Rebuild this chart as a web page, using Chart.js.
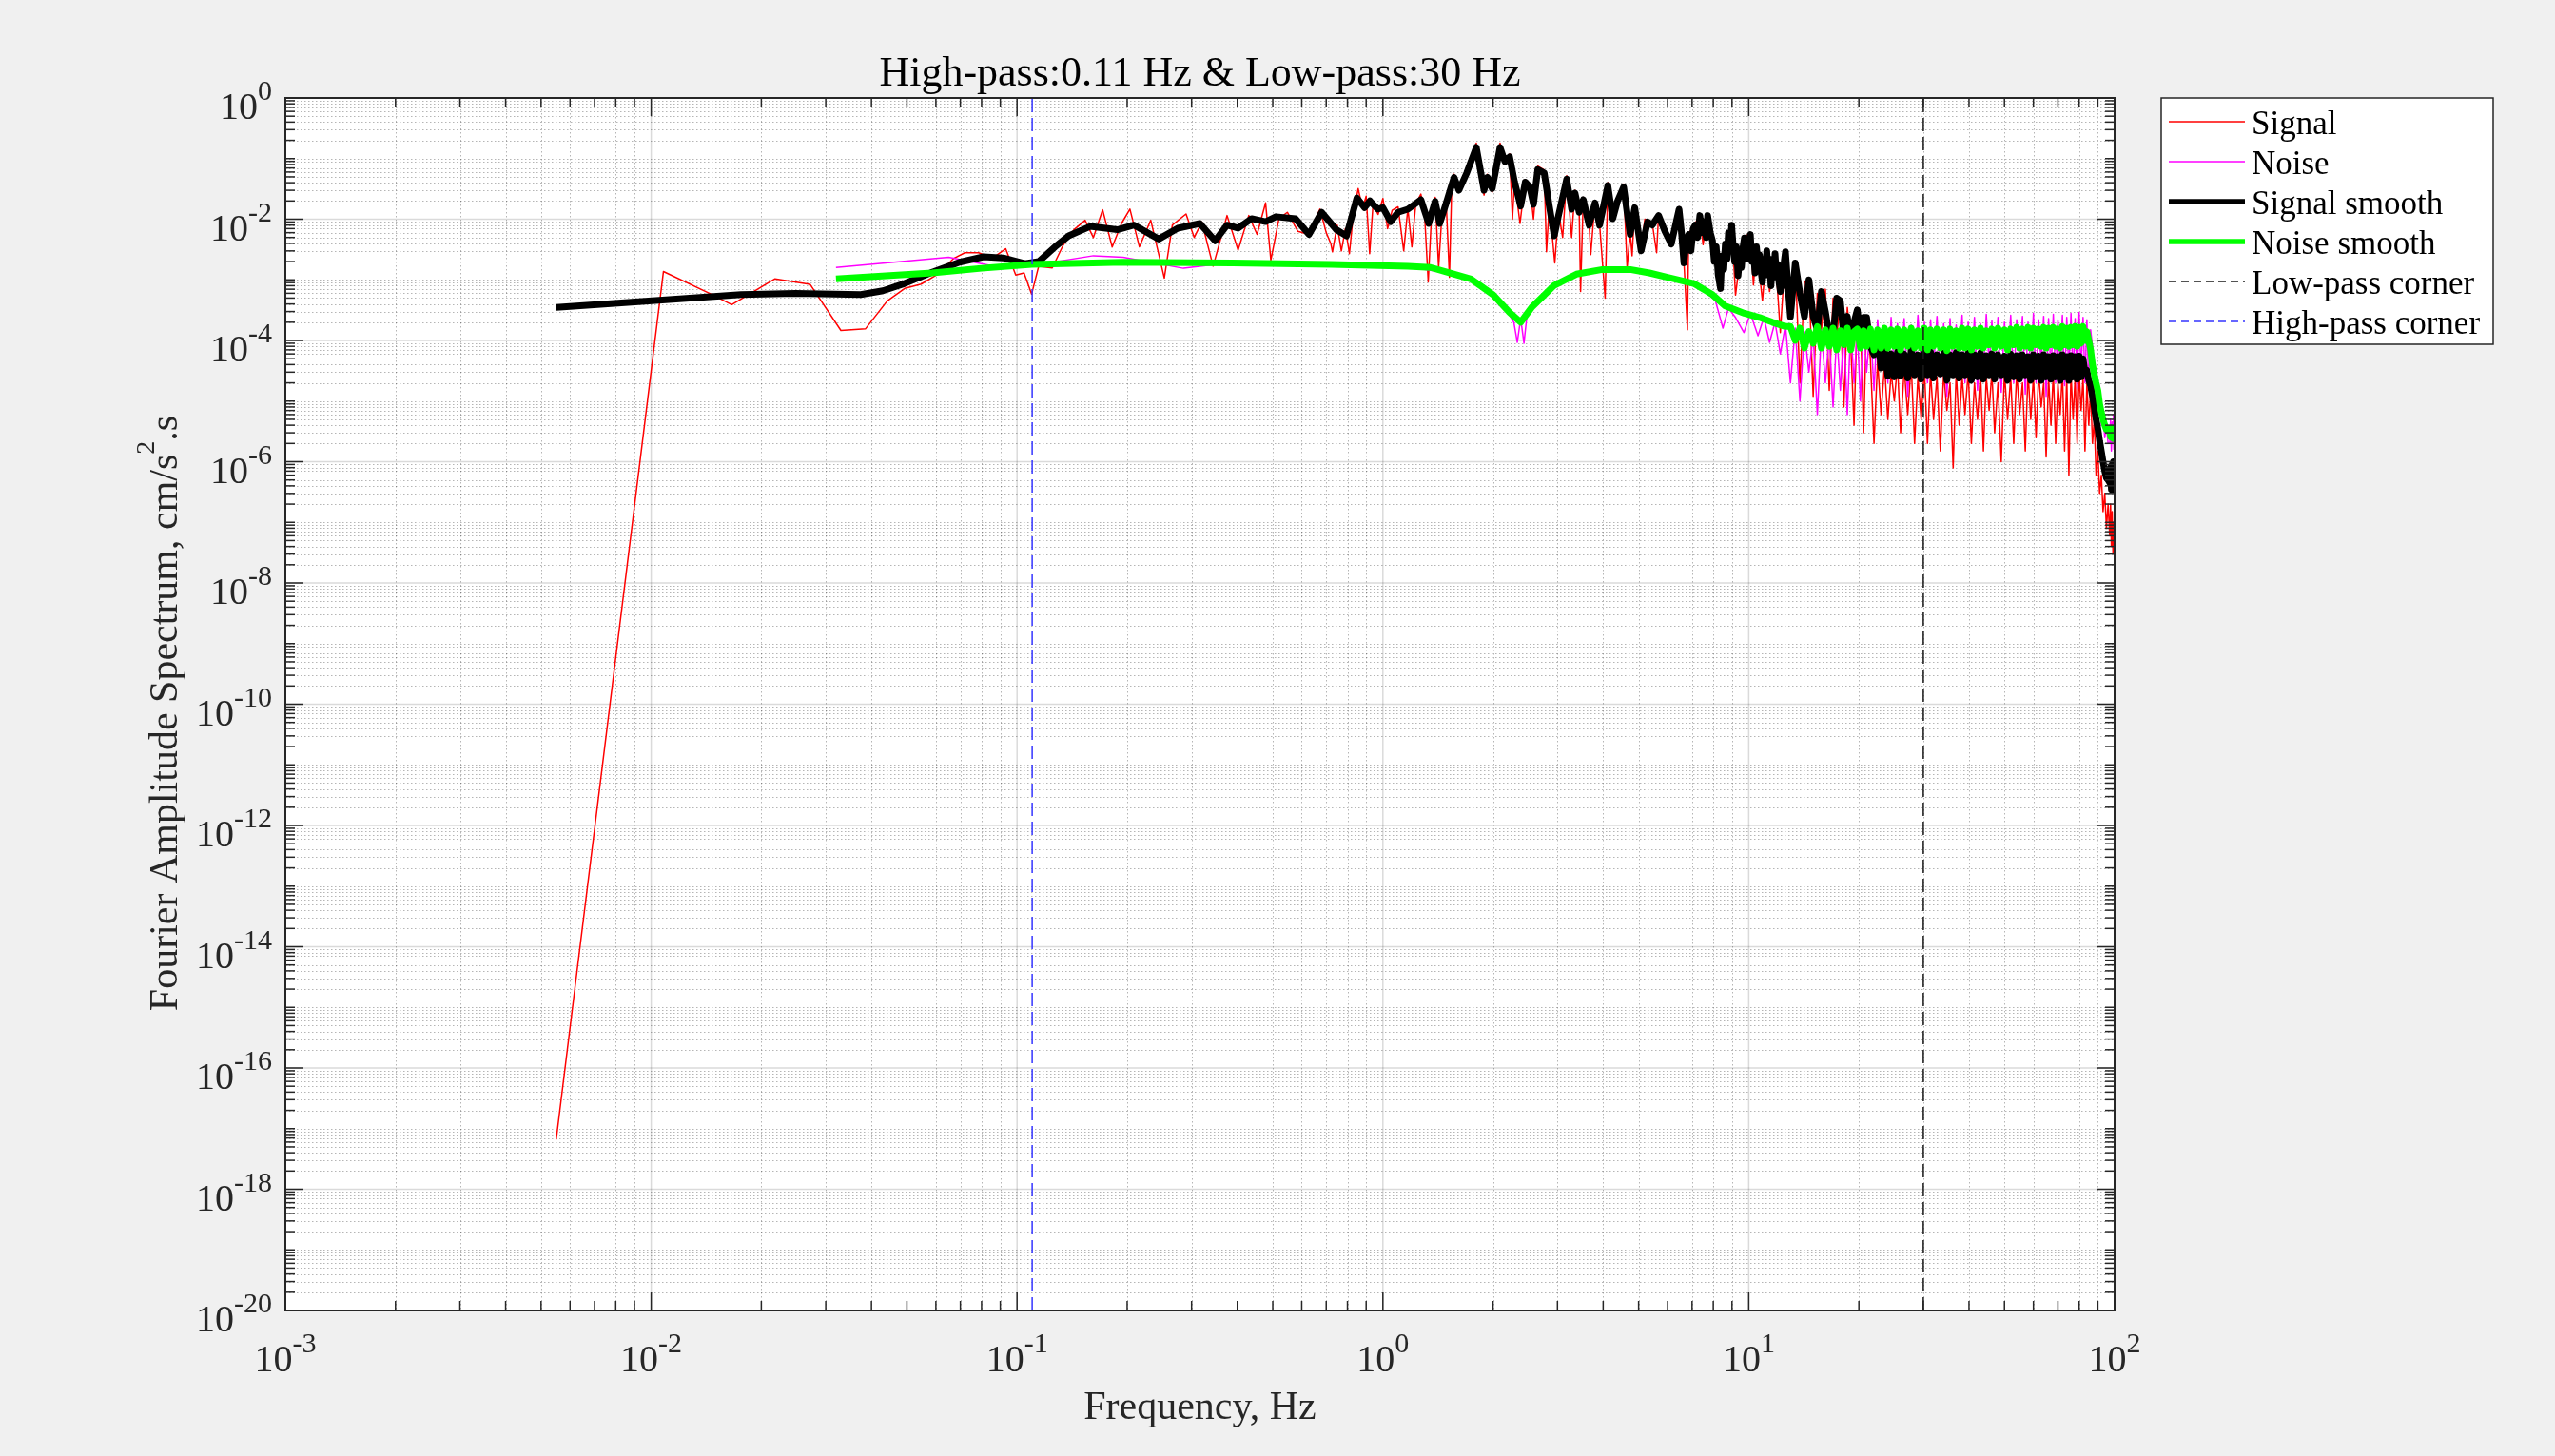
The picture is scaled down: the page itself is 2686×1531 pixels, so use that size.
<!DOCTYPE html>
<html lang="en">
  <head>
    <meta charset="UTF-8" />
    <title>Fourier Amplitude Spectrum</title>
    <script src="https://cdn.jsdelivr.net/npm/chart.js@4.4.1/dist/chart.umd.min.js"></script>
    <style>
      html,
      body {
        margin: 0;
        padding: 0;
        background: #f0f0f0;
      }
      #wrap {
        width: 2686px;
        height: 1531px;
      }
    </style>
  </head>
  <body>
    <div id="wrap"><canvas id="spectrum" width="2686" height="1531"></canvas></div>

    <script>
      // axis decades (labels are drawn as 10^exp)
      const xTickExp = [-3, -2, -1, 0, 1, 2];
      const yTickExp = [0, -2, -4, -6, -8, -10, -12, -14, -16, -18, -20];

      const titleText = "High-pass:0.11 Hz & Low-pass:30 Hz";
      const xLabel = "Frequency, Hz";
      const highPassHz = 0.11;
      const lowPassHz = 30;

      // Signal (red) below 13 Hz: [frequency Hz, amplitude]
      const signalLow = [
        [0.0055, 6.6e-18], [0.0108, 1.37e-3], [0.0146, 5.8e-4], [0.0166, 3.9e-4], [0.0218, 1.04e-3],
        [0.0272, 8.4e-4], [0.033, 1.46e-4], [0.0385, 1.55e-4], [0.0442, 4.5e-4], [0.0493, 7.2e-4],
        [0.0547, 8.5e-4], [0.0607, 1.24e-3], [0.0672, 2.27e-3], [0.072, 2.8e-3], [0.0785, 2.8e-3],
        [0.0855, 2.27e-3], [0.0931, 3.26e-3], [0.0992, 1.2e-3], [0.1045, 1.3e-3], [0.1096, 5.8e-4],
        [0.1146, 1.68e-3], [0.1248, 1.57e-3], [0.1336, 3.7e-3], [0.143, 6.7e-3], [0.1535, 9.6e-3],
        [0.1617, 4.97e-3], [0.1714, 1.43e-2], [0.182, 3.47e-3], [0.193, 8.5e-3], [0.2035, 1.47e-2],
        [0.216, 3.5e-3], [0.232, 9.6e-3], [0.2527, 1.07e-3], [0.2658, 8e-3], [0.2897, 1.22e-2],
        [0.305, 5e-3], [0.32, 9e-3], [0.3435, 1.68e-3], [0.375, 1.15e-2], [0.402, 3.1e-3],
        [0.43, 1.15e-2], [0.453, 5.6e-3], [0.478, 1.86e-2], [0.494, 2.1e-3], [0.52, 1.02e-2],
        [0.548, 1.3e-2], [0.586, 6.3e-3], [0.628, 5.6e-3], [0.673, 1.47e-2], [0.7, 6e-3],
        [0.721, 3.9e-3], [0.728, 2.9e-3], [0.75, 8e-3], [0.77, 3e-3], [0.79, 7e-3],
        [0.81, 2.7e-3], [0.83, 1.2e-2], [0.856, 3.2e-2], [0.88, 1.5e-2], [0.9, 2.4e-2],
        [0.92, 2.7e-3], [0.94, 1.8e-2], [0.97, 1.2e-2], [1.0, 2.2e-2], [1.03, 7e-3],
        [1.06, 1.4e-2], [1.1, 1.6e-2], [1.14, 3e-3], [1.17, 1.5e-2], [1.2, 3.5e-3],
        [1.23, 1.8e-2], [1.27, 2.6e-2], [1.3, 1.2e-2], [1.33, 9.2e-4], [1.36, 1.4e-2],
        [1.39, 2.3e-2], [1.42, 1.6e-3], [1.45, 1.2e-2], [1.49, 1.8e-2], [1.52, 1.1e-3],
        [1.54, 2.5e-2], [1.565, 5.5e-2], [1.613, 2.8e-2], [1.695, 6.5e-2], [1.75, 0.11],
        [1.8, 0.18], [1.85, 5e-2], [1.89, 2.5e-2], [1.93, 5.5e-2], [1.99, 2.8e-2],
        [2.04, 9e-2], [2.09, 0.18], [2.155, 8e-2], [2.22, 0.12], [2.26, 1e-2],
        [2.29, 4.5e-2], [2.37, 8.5e-3], [2.45, 4.5e-2], [2.52, 3.8e-2], [2.58, 1e-2],
        [2.65, 7.5e-2], [2.76, 6.5e-2], [2.8, 2.9e-3], [2.85, 1.8e-2], [2.95, 1.9e-3],
        [3.02, 1.3e-2], [3.1, 5e-3], [3.18, 5.2e-2], [3.28, 5e-3], [3.35, 3e-2],
        [3.44, 1.4e-2], [3.47, 6.4e-4], [3.53, 2.3e-2], [3.66, 8.5e-3], [3.7, 2.6e-3],
        [3.8, 2e-2], [3.91, 8.5e-3], [4.05, 5e-4], [4.12, 4e-2], [4.25, 1.1e-2],
        [4.38, 2.2e-2], [4.55, 3.8e-2], [4.65, 1.6e-3], [4.74, 6e-3], [4.8, 2.5e-3],
        [4.88, 1.7e-2], [5.08, 3.2e-3], [5.2, 1e-2], [5.29, 9.5e-3], [5.45, 8.5e-3],
        [5.6, 2.8e-3], [5.67, 1.2e-2], [5.9, 6.6e-3], [6.14, 4e-3], [6.45, 1.6e-2],
        [6.65, 2e-3], [6.8, 1.5e-4], [6.85, 5.8e-3], [7.14, 8.5e-3], [7.35, 1.2e-2],
        [7.5, 3.8e-3], [7.72, 1.2e-2], [7.96, 4.5e-3], [8.1, 2e-3], [8.37, 7e-4],
        [8.63, 4e-3], [8.98, 8.5e-3], [9.2, 5.6e-4], [9.35, 1.2e-3], [9.73, 5e-3],
        [10.1, 6e-3], [10.3, 8.2e-4], [10.5, 3.7e-3], [10.9, 4.5e-4], [11.2, 3.2e-3],
        [11.4, 6.4e-4], [11.8, 2.8e-3], [12.2, 1.35e-4], [12.6, 3e-3]
      ];

      // Noise (magenta) below 13 Hz
      const noiseLow = [
        [0.032, 1.6e-3], [0.065, 2.35e-3], [0.0855, 1.7e-3], [0.109, 1.7e-3], [0.1617, 2.5e-3],
        [0.195, 2.35e-3], [0.285, 1.55e-3], [0.35, 1.8e-3], [0.45, 1.85e-3], [0.6, 1.8e-3],
        [0.8, 1.75e-3], [1.0, 1.7e-3], [1.2, 1.6e-3], [1.5, 1.3e-3], [1.75, 9.5e-4],
        [1.9, 6.5e-4], [2.0, 5.6e-4], [2.08, 3.8e-4], [2.15, 3.6e-4], [2.22, 2.6e-4],
        [2.28, 2e-4], [2.33, 9.3e-5], [2.38, 2.3e-4], [2.43, 9e-5], [2.48, 2.8e-4],
        [2.55, 3.2e-4], [2.62, 4.6e-4], [2.7, 4.8e-4], [2.8, 6.5e-4], [2.95, 8.2e-4],
        [3.2, 1.1e-3], [3.6, 1.4e-3], [4.2, 1.5e-3], [4.9, 1.45e-3], [5.6, 1.2e-3],
        [6.3, 1.05e-3], [7.0, 8.5e-4], [7.6, 6.2e-4], [8.1, 4.6e-4], [8.5, 1.6e-4],
        [8.8, 3.4e-4], [9.2, 2.4e-4], [9.7, 1.35e-4], [10.1, 2.8e-4], [10.6, 1.2e-4],
        [11.0, 2.4e-4], [11.4, 9.3e-5], [11.8, 2e-4], [12.2, 6e-5], [12.6, 1.8e-4]
      ];

      // Signal smooth (black) below 13 Hz
      const signalSmoothLow = [
        [0.0055, 3.5e-4], [0.0105, 4.6e-4], [0.0176, 5.7e-4], [0.0248, 6e-4], [0.0374, 5.7e-4],
        [0.043, 6.6e-4], [0.0493, 8.7e-4], [0.0586, 1.33e-3], [0.0696, 1.95e-3], [0.081, 2.4e-3],
        [0.0916, 2.3e-3], [0.105, 1.85e-3], [0.1146, 2e-3], [0.127, 3.5e-3], [0.1384, 5.3e-3],
        [0.1585, 7.6e-3], [0.188, 6.7e-3], [0.209, 8e-3], [0.244, 4.7e-3], [0.275, 7.1e-3],
        [0.316, 8.5e-3], [0.348, 4.4e-3], [0.375, 8e-3], [0.402, 7.1e-3], [0.438, 1.02e-2],
        [0.478, 9.1e-3], [0.51, 1.1e-2], [0.577, 1.02e-2], [0.628, 5.6e-3], [0.68, 1.3e-2],
        [0.746, 6.7e-3], [0.795, 5.3e-3], [0.849, 2.24e-2], [0.891, 1.56e-2], [0.922, 2e-2],
        [0.968, 1.47e-2], [1.0, 1.55e-2], [1.05, 9.1e-3], [1.1, 1.3e-2], [1.17, 1.46e-2],
        [1.27, 2.1e-2], [1.334, 8.5e-3], [1.389, 1.97e-2], [1.43, 8.5e-3], [1.503, 2.2e-2],
        [1.565, 4.9e-2], [1.613, 3e-2], [1.695, 5.8e-2], [1.8, 0.153], [1.89, 3e-2],
        [1.93, 4.9e-2], [1.99, 3.2e-2], [2.09, 0.153], [2.155, 8.9e-2], [2.22, 0.107],
        [2.29, 4.1e-2], [2.38, 1.65e-2], [2.45, 4.1e-2], [2.52, 3.4e-2], [2.58, 1.76e-2],
        [2.65, 6.6e-2], [2.76, 5.8e-2], [2.85, 1.65e-2], [2.94, 5.3e-3], [3.02, 1.15e-2],
        [3.18, 4.6e-2], [3.28, 1.46e-2], [3.35, 2.7e-2], [3.44, 1.3e-2], [3.53, 2.1e-2],
        [3.66, 8e-3], [3.8, 1.86e-2], [3.91, 8e-3], [4.12, 3.6e-2], [4.25, 1.02e-2],
        [4.38, 2e-2], [4.55, 3.4e-2], [4.74, 5.6e-3], [4.88, 1.55e-2], [5.08, 3e-3],
        [5.29, 9e-3], [5.45, 8e-3], [5.67, 1.15e-2], [5.9, 6.3e-3], [6.14, 3.9e-3],
        [6.45, 1.46e-2], [6.55, 6e-3], [6.65, 1.9e-3], [6.75, 4.5e-3], [6.85, 5.6e-3],
        [6.95, 3e-3], [7.05, 7e-3], [7.14, 8e-3], [7.25, 5e-3], [7.35, 1.15e-2],
        [7.45, 6e-3], [7.55, 9e-3], [7.65, 5e-3], [7.72, 1.15e-2], [7.85, 6e-3],
        [7.96, 4.4e-3], [8.05, 2e-3], [8.15, 3.5e-3], [8.25, 1.2e-3], [8.37, 7.2e-4],
        [8.45, 2.5e-3], [8.55, 1.5e-3], [8.63, 3.9e-3], [8.72, 2.2e-3], [8.8, 6e-3],
        [8.9, 3e-3], [8.98, 8e-3], [9.07, 3.5e-3], [9.15, 2e-3], [9.25, 3.5e-3],
        [9.35, 1.17e-3], [9.45, 2.5e-3], [9.55, 1.6e-3], [9.65, 3.5e-3], [9.73, 4.9e-3],
        [9.85, 2.2e-3], [9.95, 4e-3], [10.1, 5.6e-3], [10.2, 2e-3], [10.3, 3e-3],
        [10.4, 1.3e-3], [10.5, 3.5e-3], [10.6, 1.8e-3], [10.7, 2.6e-3], [10.8, 1.4e-3],
        [10.9, 9.2e-4], [11.0, 2.2e-3], [11.1, 1.2e-3], [11.2, 3e-3], [11.3, 1.5e-3],
        [11.4, 2.2e-3], [11.5, 8e-4], [11.6, 1.8e-3], [11.7, 1.1e-3], [11.8, 2.7e-3],
        [11.9, 1.2e-3], [12.0, 1.8e-3], [12.1, 9e-4], [12.2, 6.4e-4], [12.3, 1.5e-3],
        [12.4, 8e-4], [12.5, 2e-3], [12.6, 2.9e-3], [12.8, 8e-4]
      ];

      // Noise smooth (green) below 13 Hz
      const noiseSmoothLow = [
        [0.032, 1.04e-3], [0.0586, 1.3e-3], [0.08, 1.55e-3], [0.1096, 1.8e-3], [0.195, 1.95e-3],
        [0.388, 1.9e-3], [0.723, 1.8e-3], [1.17, 1.67e-3], [1.35, 1.6e-3], [1.52, 1.3e-3],
        [1.74, 1.03e-3], [2.0, 5.7e-4], [2.22, 2.9e-4], [2.38, 2e-4], [2.55, 3.5e-4],
        [2.94, 8.1e-4], [3.38, 1.24e-3], [3.98, 1.48e-3], [4.74, 1.48e-3], [5.35, 1.3e-3],
        [6.0, 1.1e-3], [7.07, 8.7e-4], [7.96, 5.7e-4], [8.63, 3.7e-4], [9.73, 2.8e-4],
        [10.7, 2.4e-4], [11.6, 2e-4], [12.6, 1.7e-4]
      ];

      // dense high-frequency part, one frequency list shared by the four series
      const bandFreq = [
        13.0, 13.4, 13.8, 14.2, 14.6, 15.0, 15.4, 15.8, 16.2, 16.6,
        17.0, 17.4, 17.8, 18.2, 18.6, 19.0, 19.4, 19.8, 20.2, 20.6,
        21.0, 21.5, 22.0, 22.5, 23.0, 23.5, 24.0, 24.5, 25.0, 25.5,
        26.0, 26.6, 27.2, 27.8, 28.4, 29.0, 29.6, 30.2, 30.8, 31.4,
        32.0, 32.7, 33.4, 34.1, 34.8, 35.5, 36.2, 36.9, 37.6, 38.3,
        39.0, 39.8, 40.6, 41.4, 42.2, 43.0, 43.8, 44.6, 45.4, 46.2,
        47, 48, 49, 50, 51, 52, 53, 54, 55, 56,
        57, 58, 59, 60, 61, 62, 63, 64, 65, 66,
        67, 68, 69, 70, 71, 72, 73, 74, 75, 76,
        77, 78, 79, 80, 81, 82, 83, 84, 85, 86,
        87, 88, 89, 90, 91, 92, 93, 94, 95, 96,
        97, 97.5, 98, 98.5, 99, 99.3, 99.6, 99.8, 99.9, 100
      ];

      const signalBand = [
        2.5e-4, 1.9e-3, 2e-5, 9e-4, 1e-3, 1.2e-5, 6e-4, 1.5e-4, 7e-4, 1.5e-5,
        5e-4, 1.2e-4, 4.5e-4, 8e-6, 3.5e-4, 9e-5, 4e-6, 3e-4, 2.5e-4, 3e-6,
        2.4e-4, 5e-5, 2e-6, 4.5e-5, 6e-6, 4e-5, 5e-6, 3e-5, 1e-5, 4e-5,
        3e-6, 3.5e-5, 6e-6, 4e-5, 2e-6, 2.5e-5, 5e-6, 3.5e-5, 2e-6, 3e-5,
        5e-6, 2.5e-5, 1.5e-6, 3e-5, 7e-6, 2e-5, 7.9e-7, 3e-5, 4e-6, 2.5e-5,
        6e-6, 3e-5, 2e-6, 2e-5, 5e-6, 3e-5, 1.5e-6, 2.5e-5, 7e-6, 3e-5,
        3e-6, 2e-5, 1e-6, 3e-5, 5e-6, 2.5e-5, 2e-6, 3e-5, 6e-6, 2e-5,
        1.5e-6, 3e-5, 5e-6, 2.5e-5, 2.5e-6, 3e-5, 8e-6, 2e-5, 1.2e-6, 2.5e-5,
        4e-6, 3e-5, 2e-6, 2e-5, 6e-6, 3e-5, 1.5e-6, 2.5e-5, 6e-7, 3e-5,
        5e-6, 2.5e-5, 2e-6, 3e-5, 7e-6, 2.5e-5, 1.5e-6, 2e-5, 4e-6, 1.5e-5,
        2e-6, 5e-6, 6e-7, 1.5e-6, 3e-7, 6e-7, 1.5e-7, 3e-7, 8e-8, 2e-7,
        6e-8, 2e-7, 4e-8, 1.5e-7, 3e-8, 1e-7, 5e-8, 2e-7, 8e-8, 1.5e-7
      ];

      const noiseBand = [
        2e-5, 1.6e-4, 1e-5, 1.4e-4, 3e-5, 1.2e-4, 6e-6, 1.5e-4, 2e-5, 1.2e-4,
        8e-6, 1.3e-4, 1.5e-5, 1.6e-4, 6e-6, 1.8e-4, 2e-5, 1.5e-4, 1e-5, 2e-4,
        3e-5, 1.8e-4, 1.5e-5, 2.2e-4, 4e-5, 1.7e-4, 2e-5, 2.4e-4, 3e-5, 1.9e-4,
        4e-5, 2.3e-4, 1.2e-5, 1.8e-4, 3e-5, 2.6e-4, 4e-5, 2e-4, 2e-5, 2.2e-4,
        3.5e-5, 2.5e-4, 2.5e-5, 1.9e-4, 1.2e-5, 2.3e-4, 3e-5, 1.8e-4, 4e-5, 2.6e-4,
        2e-5, 2e-4, 3.5e-5, 2.4e-4, 1.5e-5, 1.9e-4, 3e-5, 2.7e-4, 4e-5, 2.1e-4,
        3e-5, 2.4e-4, 1.4e-5, 2e-4, 3.5e-5, 2.6e-4, 2e-5, 2.2e-4, 4e-5, 2.5e-4,
        1.3e-5, 2e-4, 3e-5, 2.8e-4, 2e-5, 2.2e-4, 4e-5, 2.5e-4, 1.2e-5, 2.3e-4,
        3e-5, 2.7e-4, 2e-5, 2.2e-4, 4e-5, 2.6e-4, 1.8e-5, 2.4e-4, 3e-5, 2.8e-4,
        2.5e-5, 2.3e-4, 1.6e-5, 2.9e-4, 3e-5, 2.4e-4, 2e-5, 2.2e-4, 1.5e-5, 1.5e-4,
        8e-5, 1.5e-5, 3e-5, 6e-6, 1.2e-5, 4e-6, 6e-6, 2.5e-6, 4e-6, 2e-6,
        2e-6, 5e-6, 1.5e-6, 4.5e-6, 2e-6, 6e-6, 1.6e-6, 5e-6, 2.5e-6, 4e-6
      ];

      const signalSmoothBand = [
        2.45e-4, 1.9e-3, 6e-4, 2.45e-4, 1e-3, 2.5e-4, 1.5e-4, 6.4e-4, 3e-4, 1.2e-4,
        1.2e-4, 5e-4, 4.5e-4, 1.1e-4, 2.5e-4, 9.4e-5, 2e-4, 3.2e-4, 1.2e-4, 2.4e-4,
        2.4e-4, 8e-5, 5.8e-5, 1.2e-4, 3.5e-5, 7e-5, 2.6e-5, 6e-5, 2.5e-5, 6.5e-5,
        2.6e-5, 6e-5, 2.4e-5, 7e-5, 2.7e-5, 5.8e-5, 2.3e-5, 6.2e-5, 2.7e-5, 6.5e-5,
        2.4e-5, 5.8e-5, 2.8e-5, 6.2e-5, 2.2e-5, 5.8e-5, 2.7e-5, 6.3e-5, 2.4e-5, 5.8e-5,
        2.7e-5, 6.2e-5, 2.2e-5, 5.8e-5, 2.5e-5, 6.2e-5, 2.3e-5, 5.6e-5, 2.7e-5, 6e-5,
        2.3e-5, 5.8e-5, 2.7e-5, 5.5e-5, 2.2e-5, 6e-5, 2.5e-5, 5.6e-5, 2.3e-5, 5.8e-5,
        2.7e-5, 5.4e-5, 2.2e-5, 5.8e-5, 2.5e-5, 5.5e-5, 2.2e-5, 5.8e-5, 2.5e-5, 5.4e-5,
        2.3e-5, 5.6e-5, 2.5e-5, 5.4e-5, 2.2e-5, 5.8e-5, 2.5e-5, 5.4e-5, 2.2e-5, 5.6e-5,
        2.5e-5, 5.4e-5, 2.3e-5, 5.5e-5, 2.5e-5, 5e-5, 3e-5, 3.2e-5, 2.2e-5, 1.8e-5,
        1.2e-5, 8e-6, 5e-6, 3.5e-6, 2.2e-6, 1.5e-6, 1e-6, 7e-7, 5.4e-7, 5e-7,
        4.5e-7, 8e-7, 3.5e-7, 9e-7, 4e-7, 1e-6, 3.5e-7, 9e-7, 4e-7, 8e-7
      ];

      const noiseSmoothBand = [
        1.7e-4, 1e-4, 1.6e-4, 7.5e-5, 1.4e-4, 9e-5, 1.7e-4, 7.5e-5, 1.5e-4, 8e-5,
        1.6e-4, 7e-5, 1.45e-4, 8.5e-5, 1.6e-4, 7e-5, 1.4e-4, 1.55e-4, 7.5e-5, 1.45e-4,
        8e-5, 1.55e-4, 7e-5, 1.5e-4, 7.5e-5, 1.6e-4, 7.5e-5, 1.5e-4, 8e-5, 1.55e-4,
        7e-5, 1.5e-4, 8e-5, 1.6e-4, 7.5e-5, 1.45e-4, 7.5e-5, 1.6e-4, 7e-5, 1.5e-4,
        8e-5, 1.55e-4, 7.5e-5, 1.5e-4, 6.8e-5, 1.55e-4, 8e-5, 1.45e-4, 7.5e-5, 1.6e-4,
        7.5e-5, 1.55e-4, 7e-5, 1.5e-4, 8e-5, 1.6e-4, 7.5e-5, 1.45e-4, 8.5e-5, 1.55e-4,
        7.5e-5, 1.6e-4, 8e-5, 1.5e-4, 7e-5, 1.55e-4, 8.5e-5, 1.65e-4, 7.5e-5, 1.55e-4,
        8e-5, 1.65e-4, 7.5e-5, 1.6e-4, 8.5e-5, 1.55e-4, 8e-5, 1.65e-4, 7.5e-5, 1.6e-4,
        8.5e-5, 1.65e-4, 8e-5, 1.55e-4, 7.5e-5, 1.7e-4, 8.5e-5, 1.6e-4, 8e-5, 1.65e-4,
        8.5e-5, 1.7e-4, 8e-5, 1.65e-4, 9e-5, 1.7e-4, 1e-4, 1.4e-4, 1e-4, 7e-5,
        4e-5, 2.8e-5, 2e-5, 1.5e-5, 9e-6, 6.5e-6, 5e-6, 4e-6, 3.4e-6, 3.2e-6,
        3.4e-6, 2.6e-6, 3.6e-6, 2.5e-6, 3.4e-6, 2.4e-6, 3.5e-6, 2.5e-6, 3.2e-6, 2.8e-6
      ];

      const toXY = (pairs) => pairs.map(([x, y]) => ({ x, y }));
      const withBand = (low, band) =>
        toXY(low).concat(bandFreq.map((f, i) => ({ x: f, y: band[i] })));

      const FONT = '"Liberation Serif", "Times New Roman", serif';
      const AXIS_COLOR = "#262626";

      const lineBase = { pointRadius: 0, fill: false, tension: 0, borderJoinStyle: "round" };

      const datasets = [
        { ...lineBase, label: "Signal", data: withBand(signalLow, signalBand), borderColor: "#ff0000", borderWidth: 1.5, order: 6 },
        { ...lineBase, label: "Noise", data: withBand(noiseLow, noiseBand), borderColor: "#ff00ff", borderWidth: 1.5, order: 5 },
        { ...lineBase, label: "Signal smooth", data: withBand(signalSmoothLow, signalSmoothBand), borderColor: "#000000", borderWidth: 7, order: 4 },
        { ...lineBase, label: "Noise smooth", data: withBand(noiseSmoothLow, noiseSmoothBand), borderColor: "#00ff00", borderWidth: 7, order: 3 },
        { ...lineBase, label: "Low-pass corner", data: [{ x: lowPassHz, y: 1e-20 }, { x: lowPassHz, y: 1 }], borderColor: "#1a1a1a", borderWidth: 1.5, borderDash: [14, 6], order: 2 },
        { ...lineBase, label: "High-pass corner", data: [{ x: highPassHz, y: 1e-20 }, { x: highPassHz, y: 1 }], borderColor: "#3535ff", borderWidth: 1.5, borderDash: [14, 6], order: 1 }
      ];

      // minor tick positions (2..9 of every decade, plus the unlabelled odd decades on y)
      const minorX = [];
      for (let e = -3; e < 2; e++) for (let m = 2; m <= 9; m++) minorX.push(m * Math.pow(10, e));
      const minorY = [];
      for (let e = -20; e < 0; e++) {
        for (let m = 1; m <= 9; m++) {
          if (m === 1 && e % 2 === 0) continue;
          minorY.push(m * Math.pow(10, e));
        }
      }

      function strokeLine(ctx, x1, y1, x2, y2) {
        ctx.beginPath();
        ctx.moveTo(x1, y1);
        ctx.lineTo(x2, y2);
        ctx.stroke();
      }

      // "10" with a raised exponent
      function drawPower(ctx, exp, anchorX, baseY, align) {
        const base = "10";
        const sup = String(exp);
        ctx.font = "40px " + FONT;
        const wb = ctx.measureText(base).width;
        ctx.font = "30px " + FONT;
        const ws = ctx.measureText(sup).width;
        const left = align === "center" ? anchorX - (wb + ws) / 2 : anchorX - wb - ws;
        ctx.textAlign = "left";
        ctx.textBaseline = "alphabetic";
        ctx.font = "40px " + FONT;
        ctx.fillText(base, left, baseY);
        ctx.font = "30px " + FONT;
        ctx.fillText(sup, left + wb, baseY - 20);
      }

      const matlabAxes = {
        id: "matlabAxes",
        beforeDraw(chart) {
          const { ctx, chartArea: a } = chart;
          ctx.save();
          ctx.fillStyle = "#f0f0f0";
          ctx.fillRect(0, 0, chart.width, chart.height);
          ctx.fillStyle = "#ffffff";
          ctx.fillRect(a.left, a.top, a.right - a.left, a.bottom - a.top);
          ctx.restore();
        },
        beforeDatasetsDraw(chart) {
          const { ctx, chartArea: a } = chart;
          const xs = chart.scales.x;
          const ys = chart.scales.y;
          ctx.save();
          // minor grid, dotted
          ctx.strokeStyle = "rgba(30,30,30,0.33)";
          ctx.lineWidth = 1;
          ctx.setLineDash([1.5, 2.5]);
          minorX.forEach((v) => {
            const px = Math.round(xs.getPixelForValue(v)) + 0.5;
            strokeLine(ctx, px, a.top, px, a.bottom);
          });
          minorY.forEach((v) => {
            const py = Math.round(ys.getPixelForValue(v)) + 0.5;
            strokeLine(ctx, a.left, py, a.right, py);
          });
          // major grid
          ctx.setLineDash([]);
          ctx.strokeStyle = "rgba(38,38,38,0.17)";
          ctx.lineWidth = 1.5;
          xTickExp.forEach((e) => {
            const px = xs.getPixelForValue(Math.pow(10, e));
            strokeLine(ctx, px, a.top, px, a.bottom);
          });
          yTickExp.forEach((e) => {
            const py = ys.getPixelForValue(Math.pow(10, e));
            strokeLine(ctx, a.left, py, a.right, py);
          });
          ctx.restore();
        },
        afterDatasetsDraw(chart) {
          const { ctx, chartArea: a } = chart;
          const xs = chart.scales.x;
          const ys = chart.scales.y;
          ctx.save();

          // ticks on all four sides, pointing inwards
          ctx.strokeStyle = AXIS_COLOR;
          ctx.lineWidth = 1.5;
          const tickX = (v, len) => {
            const px = xs.getPixelForValue(v);
            strokeLine(ctx, px, a.bottom, px, a.bottom - len);
            strokeLine(ctx, px, a.top, px, a.top + len);
          };
          const tickY = (v, len) => {
            const py = ys.getPixelForValue(v);
            strokeLine(ctx, a.left, py, a.left + len, py);
            strokeLine(ctx, a.right, py, a.right - len, py);
          };
          minorX.forEach((v) => tickX(v, 10));
          minorY.forEach((v) => tickY(v, 10));
          xTickExp.forEach((e) => tickX(Math.pow(10, e), 19));
          yTickExp.forEach((e) => tickY(Math.pow(10, e), 19));

          // axes box
          ctx.lineWidth = 2;
          ctx.strokeRect(a.left, a.top, a.right - a.left, a.bottom - a.top);

          // tick labels
          ctx.fillStyle = AXIS_COLOR;
          xTickExp.forEach((e) => {
            drawPower(ctx, e, xs.getPixelForValue(Math.pow(10, e)), a.bottom + 64, "center");
          });
          yTickExp.forEach((e) => {
            drawPower(ctx, e, a.left - 14, ys.getPixelForValue(Math.pow(10, e)) + 22, "right");
          });

          // axis titles
          ctx.font = "42px " + FONT;
          ctx.textAlign = "center";
          ctx.textBaseline = "alphabetic";
          ctx.fillText(xLabel, (a.left + a.right) / 2, a.bottom + 114);

          ctx.save();
          ctx.translate(186, 750);
          ctx.rotate(-Math.PI / 2);
          const yMain = "Fourier Amplitude Spectrum, cm/s";
          const ySup = "2";
          const yTail = ".s";
          ctx.font = "42px " + FONT;
          const w1 = ctx.measureText(yMain).width;
          const w3 = ctx.measureText(yTail).width;
          ctx.font = "28px " + FONT;
          const w2 = ctx.measureText(ySup).width;
          const sx = -(w1 + w2 + w3) / 2;
          ctx.textAlign = "left";
          ctx.font = "42px " + FONT;
          ctx.fillText(yMain, sx, 0);
          ctx.font = "28px " + FONT;
          ctx.fillText(ySup, sx + w1, -24);
          ctx.font = "42px " + FONT;
          ctx.fillText(yTail, sx + w1 + w2, 0);
          ctx.restore();

          // title
          ctx.fillStyle = "#000000";
          ctx.font = "44px " + FONT;
          ctx.textAlign = "center";
          ctx.fillText(titleText, (a.left + a.right) / 2, 90);

          // legend box
          const lx = 2272, ly = 103, lw = 349, lh = 259;
          ctx.fillStyle = "#ffffff";
          ctx.fillRect(lx, ly, lw, lh);
          ctx.strokeStyle = AXIS_COLOR;
          ctx.lineWidth = 1.5;
          ctx.strokeRect(lx, ly, lw, lh);
          ctx.font = "35px " + FONT;
          ctx.textAlign = "left";
          chart.data.datasets.forEach((ds, i) => {
            const rowY = ly + 25 + i * 42;
            ctx.save();
            ctx.strokeStyle = ds.borderColor;
            ctx.lineWidth = ds.borderWidth > 3 ? 5.5 : 1.5;
            ctx.setLineDash(ds.borderDash ? [8, 5] : []);
            strokeLine(ctx, lx + 8, rowY, lx + 88, rowY);
            ctx.restore();
            ctx.fillStyle = "#000000";
            ctx.fillText(ds.label, lx + 95, rowY + 13);
          });

          ctx.restore();
        }
      };

      const chart = new Chart(document.getElementById("spectrum"), {
        type: "line",
        data: { datasets: datasets },
        options: {
          responsive: false,
          animation: false,
          devicePixelRatio: 1,
          layout: { padding: { left: 300, right: 463, top: 103, bottom: 153 } },
          scales: {
            x: { type: "logarithmic", min: 1e-3, max: 1e2, display: false },
            y: { type: "logarithmic", min: 1e-20, max: 1, display: false }
          },
          plugins: {
            legend: { display: false },
            title: { display: false },
            tooltip: { enabled: false }
          }
        },
        plugins: [matlabAxes]
      });
    </script>
  </body>
</html>
